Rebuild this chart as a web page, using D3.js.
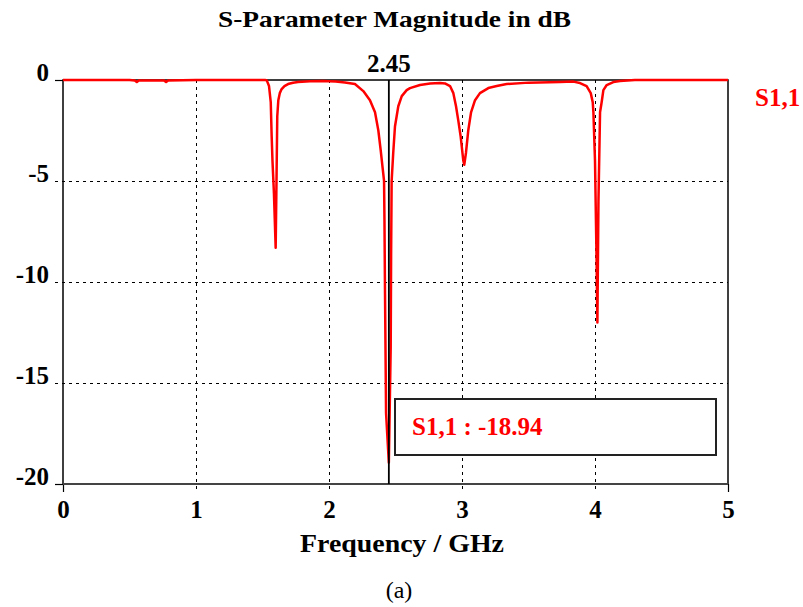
<!DOCTYPE html>
<html><head><meta charset="utf-8">
<script src="https://cdn.jsdelivr.net/npm/d3@7"></script>
<style>
body{margin:0;background:#fff;}
svg{display:block;}
text{font-family:"Liberation Serif","Times New Roman",serif;}
</style></head>
<body>
<svg id="chart" width="803" height="607"></svg>
<script>
// ---- data ----
const freqGHz = [0,0.5,0.54,0.555,0.57,0.76,0.775,0.79,1.0,1.4,1.52,1.532,1.549,1.562,1.569,1.575,1.586,1.599,1.606,1.611,1.619,1.63,1.644,1.665,1.692,1.73,1.767,1.857,1.95,2.05,2.12,2.195,2.258,2.308,2.346,2.371,2.389,2.404,2.414,2.417,2.421,2.429,2.45,2.464,2.467,2.471,2.483,2.496,2.521,2.547,2.584,2.609,2.684,2.76,2.835,2.872,2.91,2.935,2.955,2.972,2.99,3.01,3.017,3.03,3.047,3.068,3.098,3.135,3.198,3.261,3.336,3.5,3.737,3.837,3.887,3.937,3.968,3.983,3.988,4.0,4.012,4.018,4.026,4.038,4.05,4.063,4.088,4.138,4.188,4.3,5.0];
const s11dB = [0,0,-0.02,-0.1,-0.02,-0.02,-0.1,-0.02,0,0,0,-0.02,-0.3,-1.1,-2.8,-4.0,-5.6,-8.3,-4.6,-1.8,-1.0,-0.65,-0.45,-0.3,-0.2,-0.14,-0.1,-0.06,-0.05,-0.08,-0.12,-0.2,-0.55,-1.0,-1.6,-2.5,-3.5,-4.4,-5.0,-6.9,-10.4,-16.5,-18.94,-13.2,-8.6,-5.0,-3.6,-2.3,-1.3,-0.8,-0.5,-0.4,-0.25,-0.17,-0.15,-0.17,-0.3,-0.65,-1.3,-2.0,-2.8,-4.0,-4.2,-3.6,-2.5,-1.6,-1.0,-0.65,-0.4,-0.3,-0.2,-0.13,-0.1,-0.08,-0.15,-0.3,-0.65,-1.1,-1.6,-4.0,-9.0,-12.0,-6.0,-1.6,-1.1,-0.5,-0.25,-0.1,-0.05,0,0];
const xTicks = [0,1,2,3,4,5];
const yTicks = [0,-5,-10,-15,-20];
const markerFreq = 2.45;
const markerValue = "-18.94";
const seriesName = "S1,1";
const titleText = "S-Parameter Magnitude in dB";
const xLabelText = "Frequency / GHz";
const captionText = "(a)";

// ---- layout ----
const svg = d3.select("#chart");
const L = 63, R = 728, T = 80, B = 484;
const x = d3.scaleLinear().domain([0,5]).range([L,R]);
const y = d3.scaleLinear().domain([-20,0]).range([B,T]);
const red = "#ff0000";
const fmt = d => String(d);

// gridlines
const g = svg.append("g").attr("shape-rendering","crispEdges");
g.selectAll(".vg").data(xTicks.slice(1,-1)).join("line")
  .attr("x1",d=>Math.round(x(d))+0.5).attr("x2",d=>Math.round(x(d))+0.5).attr("y1",T).attr("y2",B+8)
  .attr("stroke","#000").attr("stroke-width",1).attr("stroke-dasharray","3,4");
g.selectAll(".hg").data(yTicks.slice(1,-1)).join("line")
  .attr("x1",L-8).attr("x2",R).attr("y1",d=>Math.round(y(d))+0.5).attr("y2",d=>Math.round(y(d))+0.5)
  .attr("stroke","#000").attr("stroke-width",1).attr("stroke-dasharray","3,4");

// axes (labels & end ticks)
const yAxis = svg.append("g").attr("transform",`translate(${L},0)`)
  .call(d3.axisLeft(y).tickValues(yTicks).tickSize(8).tickPadding(6).tickFormat(fmt));
yAxis.select(".domain").remove();
yAxis.selectAll(".tick line").attr("stroke","#000").attr("stroke-width",1.2)
  .attr("display",d=>(d===0||d===-20)?null:"none");
yAxis.selectAll(".tick text").attr("dy","0").attr("fill","#000")
  .style("font-size","25px").style("font-weight","bold");

const xAxis = svg.append("g").attr("transform",`translate(0,${B})`)
  .call(d3.axisBottom(x).tickValues(xTicks).tickSize(8).tickFormat(fmt));
xAxis.select(".domain").remove();
xAxis.selectAll(".tick line").attr("stroke","#000").attr("stroke-width",1.2)
  .attr("display",d=>(d===0||d===5)?null:"none");
xAxis.selectAll(".tick text").attr("y",34).attr("dy","0").attr("fill","#000")
  .style("font-size","25px").style("font-weight","bold");

// frame
svg.append("rect").attr("x",L).attr("y",T).attr("width",R-L).attr("height",B-T)
  .attr("fill","none").attr("stroke","#000").attr("stroke-width",1.5);
svg.append("line").attr("x1",L).attr("x2",R).attr("y1",B).attr("y2",B)
  .attr("stroke","#444").attr("stroke-width",2);

// curve
const pts = freqGHz.map((f,i)=>[f,s11dB[i]]);
svg.append("path").datum(pts)
  .attr("d",d3.line().x(d=>x(d[0])).y(d=>y(d[1])))
  .attr("fill","none").attr("stroke",red).attr("stroke-width",2.5)
  .attr("stroke-linejoin","round");

// marker line
svg.append("line").attr("x1",x(markerFreq)).attr("x2",x(markerFreq)).attr("y1",T).attr("y2",B)
  .attr("stroke","#000").attr("stroke-width",1.8);
svg.append("text").attr("x",x(markerFreq)).attr("y",72).attr("text-anchor","middle")
  .style("font-size","25px").style("font-weight","bold").attr("fill","#000").text(markerFreq.toFixed(2));

// marker box
svg.append("rect").attr("x",395).attr("y",399).attr("width",321).attr("height",56)
  .attr("fill","#fff").attr("stroke","#222").attr("stroke-width",2);
svg.append("text").attr("x",412).attr("y",435)
  .style("font-size","25px").style("font-weight","bold").attr("fill",red)
  .text(`${seriesName} : ${markerValue}`);

// legend
svg.append("text").attr("x",755).attr("y",106)
  .style("font-size","25px").style("font-weight","bold").attr("fill",red).text(seriesName);

// titles
svg.append("text").attr("x",394.5).attr("y",27).attr("text-anchor","middle")
  .attr("textLength",353).attr("lengthAdjust","spacingAndGlyphs")
  .style("font-size","24px").style("font-weight","bold").attr("fill","#000").text(titleText);
svg.append("text").attr("x",402).attr("y",552).attr("text-anchor","middle")
  .attr("textLength",204).attr("lengthAdjust","spacingAndGlyphs")
  .style("font-size","25px").style("font-weight","bold").attr("fill","#000").text(xLabelText);
svg.append("text").attr("x",399).attr("y",598).attr("text-anchor","middle")
  .style("font-size","24px").attr("fill","#000").text(captionText);
</script>
</body></html>
